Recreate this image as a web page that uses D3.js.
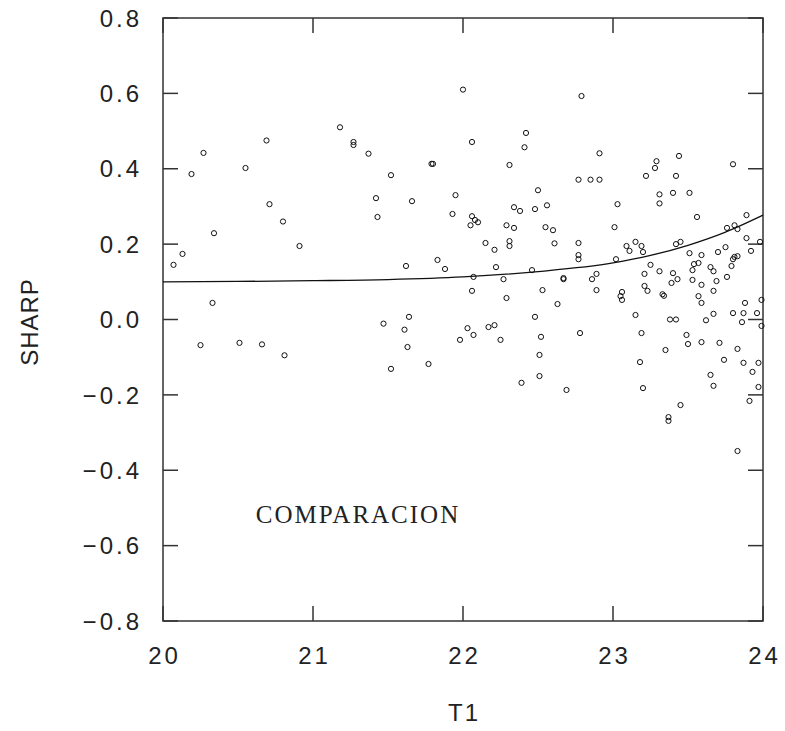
<!DOCTYPE html>
<html><head><meta charset="utf-8">
<script src="https://cdn.jsdelivr.net/npm/d3@7"></script>
<style>body{margin:0;background:#fff}</style>
</head><body>
<script>
const xVals = [20.07,20.13,20.19,20.27,20.25,20.33,20.34,20.55,20.51,20.69,20.71,20.66,20.80,20.81,20.91,
21.18,21.27,21.27,21.37,21.79,21.80,21.52,21.42,21.66,21.43,21.95,21.93,21.62,21.83,21.88,
22.00,22.42,22.41,22.06,22.31,22.50,22.34,22.38,22.48,22.56,22.06,22.05,22.10,22.08,22.29,22.34,22.55,22.60,22.15,22.31,22.31,22.61,22.21,22.22,22.46,22.07,22.27,
22.79,22.91,22.77,22.85,22.91,23.29,23.28,23.22,23.31,23.31,23.03,23.01,22.77,22.77,22.77,23.09,23.11,23.15,23.19,23.20,23.02,23.25,23.31,23.21,22.89,22.67,22.67,22.86,
23.44,23.80,23.42,23.40,23.51,23.56,23.89,23.76,23.81,23.83,23.42,23.45,23.89,23.98,23.51,23.59,23.70,23.75,23.92,23.80,23.81,23.83,23.54,23.57,23.53,23.65,23.67,23.79,23.40,23.43,23.53,23.76,
23.39,23.59,23.69,23.33,23.34,23.57,23.67,23.59,23.88,23.99,23.38,23.42,23.62,23.67,23.80,23.87,23.96,23.86,23.99,23.49,23.50,23.59,23.71,23.35,23.83,23.74,23.87,23.97,23.93,23.65,23.67,23.97,23.91,23.45,23.37,23.37,23.83,
22.89,23.06,23.05,23.06,23.21,23.23,23.15,22.78,23.19,23.18,22.69,23.20,
22.06,22.29,22.53,22.63,22.48,22.03,22.07,22.17,22.21,22.25,22.52,21.98,22.51,22.51,22.39,
21.64,21.47,21.61,21.63,21.52,21.77];
const yVals = [0.145,0.174,0.386,0.442,-0.068,0.044,0.229,0.402,-0.062,0.475,0.306,-0.066,0.260,-0.095,0.195,
0.510,0.471,0.463,0.440,0.413,0.413,0.383,0.322,0.314,0.272,0.330,0.280,0.142,0.158,0.134,
0.610,0.495,0.457,0.471,0.410,0.343,0.298,0.288,0.293,0.303,0.274,0.250,0.258,0.264,0.250,0.243,0.245,0.237,0.203,0.208,0.195,0.202,0.185,0.139,0.131,0.113,0.107,
0.593,0.441,0.371,0.371,0.371,0.420,0.402,0.381,0.332,0.308,0.306,0.245,0.203,0.171,0.160,0.195,0.182,0.206,0.195,0.179,0.160,0.145,0.128,0.121,0.121,0.110,0.107,0.107,
0.434,0.412,0.381,0.336,0.336,0.272,0.277,0.243,0.250,0.240,0.200,0.206,0.216,0.206,0.176,0.171,0.179,0.192,0.182,0.160,0.166,0.168,0.147,0.150,0.131,0.139,0.128,0.142,0.123,0.107,0.105,0.113,
0.097,0.092,0.102,0.067,0.063,0.062,0.076,0.044,0.044,0.052,0.000,0.000,-0.002,0.015,0.017,0.017,0.017,-0.007,-0.017,-0.041,-0.065,-0.060,-0.062,-0.081,-0.078,-0.107,-0.115,-0.115,-0.139,-0.147,-0.176,-0.179,-0.216,-0.227,-0.259,-0.269,-0.349,
0.078,0.073,0.062,0.052,0.089,0.076,0.012,-0.036,-0.036,-0.113,-0.187,-0.182,
0.076,0.057,0.078,0.041,0.007,-0.023,-0.041,-0.020,-0.015,-0.054,-0.046,-0.054,-0.094,-0.150,-0.168,
0.007,-0.011,-0.027,-0.073,-0.131,-0.118];
const curveX = [20,20.5,21,21.5,22,22.5,23,23.25,23.5,23.75,24];
const curveY = [0.100,0.101,0.103,0.106,0.113,0.127,0.150,0.170,0.197,0.232,0.277];
const xTicks = [20,21,22,23,24];
const yTicks = [-0.8,-0.6,-0.4,-0.2,0.0,0.2,0.4,0.6,0.8];
const xLabel = "T1", yLabel = "SHARP", note = "COMPARACION";

const W=785,H=731, L=163,R=763,T=18,B=621;
const svg=d3.select("body").append("svg").attr("width",W).attr("height",H);
const x=d3.scaleLinear().domain([20,24]).range([L,R]);
const y=d3.scaleLinear().domain([-0.8,0.8]).range([B,T]);
const fmt=v=>(v<0?"\u2212":"")+Math.abs(v).toFixed(1);
const tf="'Liberation Sans',Arial,sans-serif";

// ticks (inward)
const tl=15;
svg.append("g").selectAll("line").data(yTicks).join("line")
 .attr("x1",L).attr("x2",L+tl).attr("y1",d=>y(d)).attr("y2",d=>y(d)).attr("stroke","#333").attr("stroke-width",1.5);
svg.append("g").selectAll("line").data(yTicks).join("line")
 .attr("x1",R).attr("x2",R-tl).attr("y1",d=>y(d)).attr("y2",d=>y(d)).attr("stroke","#333").attr("stroke-width",1.5);
svg.append("g").selectAll("line").data(xTicks).join("line")
 .attr("x1",d=>x(d)).attr("x2",d=>x(d)).attr("y1",B).attr("y2",B-tl).attr("stroke","#333").attr("stroke-width",1.5);
svg.append("g").selectAll("line").data(xTicks).join("line")
 .attr("x1",d=>x(d)).attr("x2",d=>x(d)).attr("y1",T).attr("y2",T+tl).attr("stroke","#333").attr("stroke-width",1.5);
svg.append("rect").attr("x",L).attr("y",T).attr("width",R-L).attr("height",B-T)
 .attr("fill","none").attr("stroke","#333").attr("stroke-width",1.5);

// tick labels
svg.append("g").selectAll("text").data(yTicks).join("text")
 .attr("x",142).attr("y",d=>y(d)).attr("dy","0.36em").attr("text-anchor","end")
 .attr("font-family",tf).attr("font-size",24).attr("letter-spacing",3).attr("fill","#222").text(fmt);
svg.append("g").selectAll("text").data(xTicks).join("text")
 .attr("x",d=>x(d)+1.5).attr("y",664).attr("text-anchor","middle")
 .attr("font-family",tf).attr("font-size",24).attr("letter-spacing",3).attr("fill","#222").text(d=>d);
svg.append("text").attr("x",464).attr("y",721).attr("text-anchor","middle")
 .attr("font-family",tf).attr("font-size",24).attr("letter-spacing",2).attr("fill","#222").text(xLabel);
svg.append("text").attr("transform","translate(38,322) rotate(-90)").attr("text-anchor","middle")
 .attr("font-family",tf).attr("font-size",24).attr("letter-spacing",1).attr("fill","#222").text(yLabel);

// note
svg.append("text").attr("x",x(21.3)).attr("y",y(-0.54)).attr("text-anchor","middle")
 .attr("font-family","'Liberation Serif','Times New Roman',serif").attr("font-size",25).attr("letter-spacing",2).attr("fill","#222").text(note);

// curve
const cdata=curveX.map((v,i)=>[v,curveY[i]]);
svg.append("path").datum(cdata)
 .attr("d",d3.line().x(d=>x(d[0])).y(d=>y(d[1])).curve(d3.curveMonotoneX))
 .attr("fill","none").attr("stroke","#111").attr("stroke-width",1.3);

// points
const pts=xVals.map((v,i)=>[v,yVals[i]]);
svg.append("g").selectAll("circle").data(pts).join("circle")
 .attr("cx",d=>x(d[0])).attr("cy",d=>y(d[1])).attr("r",2.6)
 .attr("fill","none").attr("stroke","#111").attr("stroke-width",1);
</script>
</body></html>
